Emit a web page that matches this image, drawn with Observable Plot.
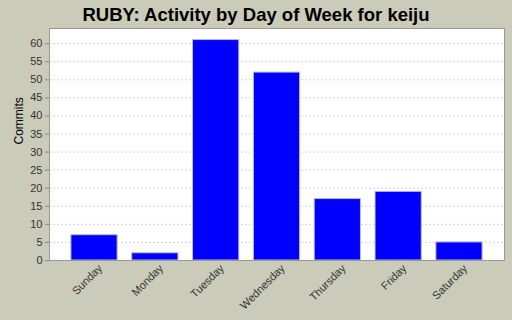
<!DOCTYPE html>
<html>
<head>
<meta charset="utf-8">
<script src="https://cdn.jsdelivr.net/npm/d3@7"></script>
<script src="https://cdn.jsdelivr.net/npm/@observablehq/plot@0.6"></script>
<style>
  html, body { margin: 0; padding: 0; background: #cbcbb9; }
  #wrap { width: 512px; height: 320px; overflow: hidden; background: #cbcbb9; }
  #title { height: 27px; line-height: 27px; text-align: center; font-family: "Liberation Sans", Arial, sans-serif; font-weight: bold; font-size: 18.5px; color: #000; padding-top: 1px; box-sizing: border-box; }
</style>
</head>
<body>
<div id="wrap">
  <div id="title">RUBY: Activity by Day of Week for keiju</div>
  <div id="chart"></div>
</div>
<script>
const days = ["Sunday", "Monday", "Tuesday", "Wednesday", "Thursday", "Friday", "Saturday"];
const commits = [7, 2, 61, 52, 17, 19, 5];
const yTicks = [0, 5, 10, 15, 20, 25, 30, 35, 40, 45, 50, 55, 60];

const data = days.map((d, i) => ({day: d, value: commits[i]}));

const chart = Plot.plot({
  width: 512,
  height: 293,
  marginTop: 1,
  marginLeft: 49,
  marginRight: 8,
  marginBottom: 60,
  style: {background: "transparent", fontFamily: "'Liberation Sans', Arial, sans-serif", fontSize: "11px", color: "#333"},
  x: {domain: days, paddingInner: 0.24, paddingOuter: 0.36, round: false, label: null},
  y: {domain: [0, 64.2], label: null},
  marks: [
    Plot.frame({fill: "white", stroke: null}),
    Plot.gridY(yTicks, {stroke: "#d4d4d4", strokeOpacity: 1, strokeDasharray: "2,2"}),
    Plot.barY(data, {x: "day", y: "value", fill: "#0000ff", stroke: "#bdbdbd", strokeWidth: 1}),
    Plot.frame({stroke: "#999"}),
    Plot.axisY(yTicks, {tickSize: 4, tickPadding: 3, stroke: "#888", fill: "#333", label: null}),
    Plot.axisX({tickSize: 0, tickRotate: -45, tickPadding: 6, dx: 6, fill: "#333", label: null}),
    Plot.text(["Commits"], {frameAnchor: "left", dx: -30, rotate: -90, fontSize: 12, fill: "#000"})
  ]
});
document.getElementById("chart").appendChild(chart);
</script>
</body>
</html>
